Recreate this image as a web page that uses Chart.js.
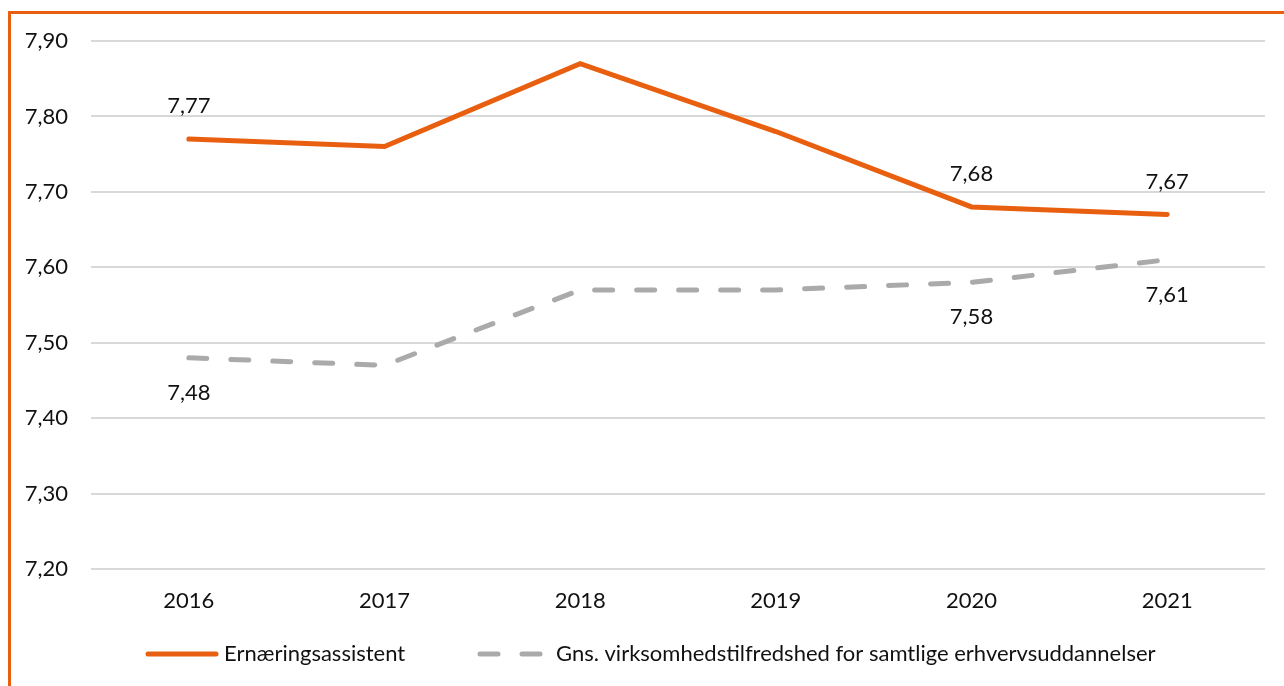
<!DOCTYPE html>
<html>
<head>
<meta charset="utf-8">
<script src="https://cdn.jsdelivr.net/npm/chart.js@4/dist/chart.umd.min.js"></script>
<style>
  html, body { margin: 0; padding: 0; background: #fff; overflow: hidden; }
  #wrap { position: relative; width: 1284px; height: 686px; }
  #frame {
    position: absolute; left: 8px; top: 11px; right: -10px; bottom: -10px;
    border-left: 3px solid #E8600F; border-top: 3px solid #E8600F;
  }
  canvas { position: absolute; left: 0; top: 0; }
</style>
</head>
<body>
<div id="wrap">
  <div id="frame"></div>
  <canvas id="chart" width="1284" height="686"></canvas>
</div>
<script>
// =====================
// DATA
// =====================

const years = ["2016", "2017", "2018", "2019", "2020", "2021"];

const ernaering = [7.77, 7.76, 7.87, 7.78, 7.68, 7.67];
const gennemsnit = [7.48, 7.47, 7.57, 7.57, 7.58, 7.61];

// which points carry a value label
const ernaeringLabels = [true, false, false, false, true, true];
const gennemsnitLabels = [true, false, false, false, true, true];

const seriesNames = [
  "Ernæringsassistent",
  "Gns. virksomhedstilfredshed for samtlige erhvervsuddannelser"
];

const FONT = "Lato, 'Open Sans', sans-serif";
const FSIZE = 22;
const ORANGE = "#E8600F";
const GREY = "#AAAAAA";

const fmt = v => v.toFixed(2).replace(".", ",");


// =====================
// PLUGINS
// =====================

const valueLabels = {
  id: "valueLabels",
  afterDatasetsDraw(chart) {
    const ctx = chart.ctx;
    ctx.save();
    ctx.font = FSIZE + "px " + FONT;
    ctx.fillStyle = "#111";
    ctx.textAlign = "center";
    ctx.textBaseline = "middle";
    chart.data.datasets.forEach((ds, di) => {
      const meta = chart.getDatasetMeta(di);
      meta.data.forEach((pt, i) => {
        if (!ds.showLabel[i]) return;
        const dy = ds.labelAbove ? -33 : 35;
        ctx.fillText(fmt(ds.data[i]), pt.x, pt.y + dy);
      });
    });
    ctx.restore();
  }
};

const lineLegend = {
  id: "lineLegend",
  afterDraw(chart) {
    const ctx = chart.ctx;
    const y = 654;
    const items = [
      { x: 148, ds: chart.data.datasets[0] },
      { x: 480, ds: chart.data.datasets[1] }
    ];
    ctx.save();
    items.forEach(it => {
      ctx.beginPath();
      ctx.lineWidth = 5;
      ctx.lineCap = "round";
      ctx.strokeStyle = it.ds.borderColor;
      ctx.setLineDash(it.ds.borderDash || []);
      ctx.moveTo(it.x, y);
      ctx.lineTo(it.x + (it.ds.borderDash ? 62 : 68), y);
      ctx.stroke();
      ctx.setLineDash([]);
      ctx.font = FSIZE + "px " + FONT;
      ctx.fillStyle = "#111";
      ctx.textAlign = "left";
      ctx.textBaseline = "middle";
      ctx.fillText(it.ds.label, it.x + 76, y);
    });
    ctx.restore();
  }
};


// =====================
// CHART
// =====================

new Chart(document.getElementById("chart"), {
  type: "line",
  data: {
    labels: years,
    datasets: [
      {
        label: seriesNames[0],
        data: ernaering,
        borderColor: ORANGE,
        borderWidth: 5,
        pointRadius: 0,
        tension: 0,
        borderCapStyle: "round",
        showLabel: ernaeringLabels,
        labelAbove: true
      },
      {
        label: seriesNames[1],
        data: gennemsnit,
        borderColor: GREY,
        borderWidth: 5,
        borderDash: [18, 24],
        borderCapStyle: "round",
        pointRadius: 0,
        tension: 0,
        showLabel: gennemsnitLabels,
        labelAbove: false
      }
    ]
  },
  options: {
    responsive: false,
    animation: false,
    layout: { padding: { top: 41, right: 19, bottom: 52, left: 0 } },
    plugins: {
      legend: { display: false },
      tooltip: { enabled: false }
    },
    scales: {
      x: {
        offset: true,
        afterFit(scale) { scale.height = 65; },
        grid: { display: false, drawTicks: false },
        border: { display: false },
        ticks: { color: "#111", font: { size: FSIZE, family: FONT }, padding: 19 }
      },
      y: {
        min: 7.2,
        max: 7.9,
        afterFit(scale) { scale.width = 91; },
        grid: { color: "#D9D9D9", lineWidth: 2, drawTicks: false },
        border: { display: false },
        ticks: {
          stepSize: 0.1,
          color: "#111",
          padding: 23,
          font: { size: FSIZE, family: FONT },
          callback: v => fmt(v)
        }
      }
    }
  },
  plugins: [valueLabels, lineLegend]
});
</script>
</body>
</html>
